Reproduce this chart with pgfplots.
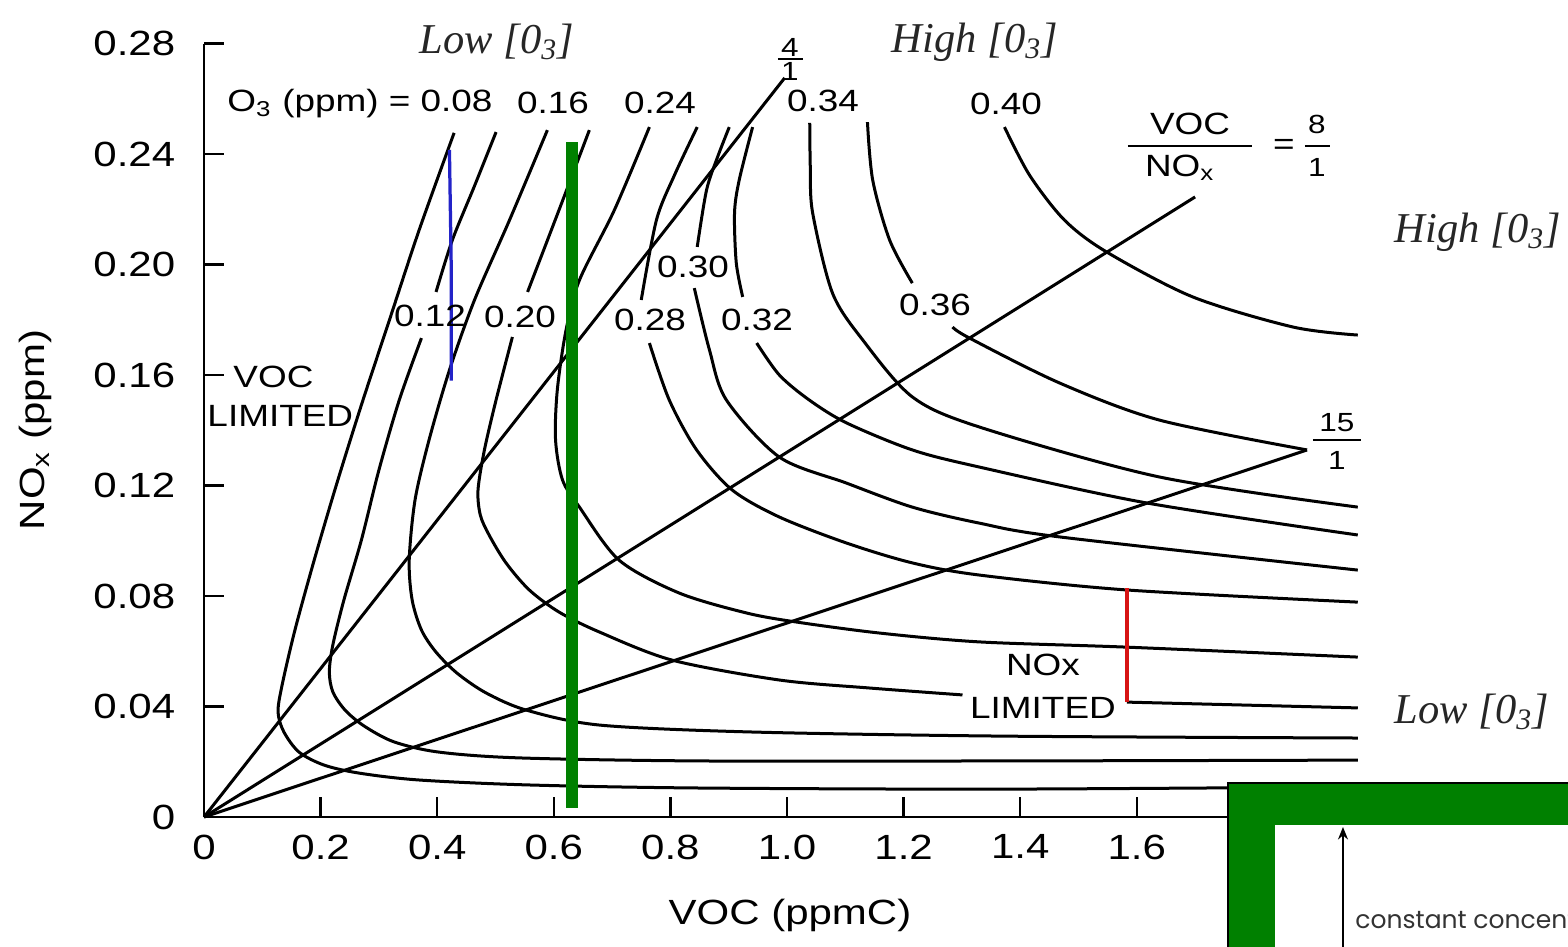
\documentclass[border=0pt]{standalone}
\usepackage{fontspec}
\setmainfont{Liberation Sans}
\newfontfamily\tnr{Liberation Serif}
\newfontfamily\gothic{Poppins}
\usepackage{graphicx}
\usepackage{pgfplots}
\pgfplotsset{compat=1.18}
\usetikzlibrary{arrows.meta}
\definecolor{gfig}{RGB}{0,128,0}
\definecolor{bfig}{RGB}{35,35,200}
\definecolor{rfig}{RGB}{215,20,20}
\newcommand\sx[1]{\scalebox{1.2}[1]{#1}}
\begin{document}
\begin{tikzpicture}
\path[use as bounding box] (0,0) rectangle (627.2pt,-378.4pt);
\fill[white] (0,0) rectangle (627.2pt,-378.4pt);
\clip (0,0) rectangle (627.2pt,-378.4pt);
\begin{axis}[
  at={(81.6pt,-326.8pt)}, anchor=south west,
  x=233.2pt, y=1104.8pt,
  xmin=0, xmax=1.98, ymin=0, ymax=0.28,
  enlargelimits=false,
  axis x line=bottom, axis y line=left,
  axis line style={-, line width=1.1pt},
  xtick={0,0.2,0.4,0.6,0.8,1.0,1.2,1.4,1.6,1.8},
  xticklabels={\sx{0},\sx{0.2},\sx{0.4},\sx{0.6},\sx{0.8},\sx{1.0},\sx{1.2},\sx{1.4},\sx{1.6},\sx{1.8}},
  ytick={0,0.04,0.08,0.12,0.16,0.20,0.24,0.28},
  yticklabels={\sx{0},\sx{0.04},\sx{0.08},\sx{0.12},\sx{0.16},\sx{0.20},\sx{0.24},\sx{0.28}},
  tick align=inside, major tick length=8pt,
  tick style={line width=1pt, black},
  xticklabel style={font=\fontsize{14}{14}\selectfont, yshift=-3.6pt},
  yticklabel style={font=\fontsize{14}{14}\selectfont, xshift=-8pt},
  clip=false,
  iso/.style={black, line width=1.2pt, smooth},
  rat/.style={black, line width=1.2pt},
]
% ratio lines VOC/NOx = 4/1, 8/1, 15/1
\addplot[rat] coordinates {(0,0) (0.996,0.2676)};
\addplot[rat] coordinates {(0,0) (1.700,0.2245)};
\addplot[rat] coordinates {(0,0) (1.892,0.1329)};
% O3 = 0.08
\addplot[iso] coordinates {(0.429,0.2477) (0.369,0.2125) (0.318,0.1799) (0.270,0.1492) (0.227,0.1202) (0.189,0.0930) (0.156,0.0677) (0.134,0.0478) (0.127,0.0380) (0.137,0.0308) (0.163,0.0235) (0.206,0.0188) (0.266,0.0159) (0.369,0.0134) (0.558,0.0116) (0.850,0.0105) (1.365,0.0101) (1.979,0.0109)};
% 0.12
\addplot[iso] coordinates {(0.501,0.2480) (0.464,0.2285) (0.426,0.2089) (0.398,0.1901)};
\addplot[iso] coordinates {(0.373,0.1734) (0.335,0.1510) (0.300,0.1256) (0.270,0.1003) (0.240,0.0786) (0.221,0.0623) (0.215,0.0525) (0.221,0.0453) (0.242,0.0387) (0.275,0.0329) (0.326,0.0272) (0.403,0.0235) (0.541,0.0214) (0.850,0.0203) (1.365,0.0203) (1.979,0.0206)};
% 0.16
\addplot[iso] coordinates {(0.589,0.2487) (0.524,0.2161) (0.464,0.1872) (0.421,0.1618) (0.386,0.1365) (0.362,0.1148) (0.352,0.0930) (0.357,0.0786) (0.373,0.0677) (0.398,0.0597) (0.434,0.0521) (0.484,0.0449) (0.553,0.0387) (0.678,0.0333) (0.936,0.0308) (1.365,0.0293) (1.979,0.0286)};
% 0.20
\addplot[iso] coordinates {(0.661,0.2487) (0.609,0.2198) (0.555,0.1901)};
\addplot[iso] coordinates {(0.529,0.1738) (0.501,0.1510) (0.481,0.1329) (0.470,0.1184) (0.474,0.1093) (0.489,0.1021) (0.518,0.0920) (0.558,0.0822) (0.609,0.0742) (0.678,0.0670) (0.803,0.0568) (0.987,0.0496) (1.142,0.0467) (1.301,0.0442)};
\addplot[iso] coordinates {(1.583,0.0416) (1.979,0.0395)};
% 0.24
\addplot[iso] coordinates {(0.764,0.2498) (0.704,0.2198) (0.644,0.1944) (0.621,0.1763) (0.606,0.1546) (0.603,0.1365) (0.615,0.1220) (0.644,0.1122) (0.712,0.0930) (0.815,0.0811) (0.930,0.0739) (1.016,0.0706) (1.159,0.0666) (1.330,0.0634) (1.583,0.0615) (1.979,0.0579)};
% 0.28
\addplot[iso] coordinates {(0.846,0.2498) (0.807,0.2324) (0.776,0.2161) (0.750,0.1872)};
\addplot[iso] coordinates {(0.764,0.1716) (0.798,0.1510) (0.845,0.1329) (0.906,0.1184) (0.987,0.1086) (1.102,0.0992) (1.215,0.0920) (1.330,0.0876) (1.583,0.0822) (1.979,0.0778)};
% 0.30
\addplot[iso] coordinates {(0.901,0.2498) (0.881,0.2390) (0.862,0.2270) (0.846,0.2064)};
\addplot[iso] coordinates {(0.841,0.1915) (0.867,0.1691) (0.896,0.1510) (0.987,0.1303) (1.102,0.1209) (1.215,0.1122) (1.330,0.1064) (1.468,0.1014) (1.979,0.0894)};
% 0.32
\addplot[iso] coordinates {(0.941,0.2498) (0.918,0.2306) (0.910,0.2187) (0.913,0.2006) (0.924,0.1883)};
\addplot[iso] coordinates {(0.948,0.1716) (0.987,0.1600) (1.038,0.1510) (1.102,0.1427) (1.215,0.1329) (1.330,0.1267) (1.617,0.1137) (1.979,0.1021)};
% 0.34
\addplot[iso] coordinates {(1.039,0.2513) (1.040,0.2350) (1.044,0.2187) (1.078,0.1897) (1.130,0.1727) (1.215,0.1521) (1.330,0.1412) (1.639,0.1231) (1.979,0.1122)};
% 0.36
\addplot[iso] coordinates {(1.138,0.2516) (1.147,0.2306) (1.176,0.2089) (1.215,0.1933)};
\addplot[iso] coordinates {(1.284,0.1774) (1.313,0.1734) (1.468,0.1571) (1.639,0.1437) (1.892,0.1329)};
% 0.40
\addplot[iso] coordinates {(1.373,0.2498) (1.416,0.2324) (1.476,0.2161) (1.548,0.2046) (1.696,0.1883) (1.868,0.1774) (1.979,0.1745)};
% overlays
\addplot[bfig, line width=1.3pt] coordinates {(0.421,0.2415) (0.424,0.2000) (0.424,0.1580)};
\addplot[rfig, line width=1.3pt] coordinates {(1.583,0.0416) (1.583,0.0829)};
\addplot[gfig, line width=4.8pt] coordinates {(0.632,0.0033) (0.632,0.2444)};
\end{axis}
\begin{scope}[x=0.4pt,y=-0.4pt,
  lab/.style={font=\fontsize{12.3}{12.3}\selectfont, inner sep=0pt},
  sml/.style={font=\fontsize{10.5}{10.5}\selectfont, inner sep=0pt},
  big/.style={font=\fontsize{14}{14}\selectfont, inner sep=0pt},
  ita/.style={font=\tnr\itshape\fontsize{17}{17}\selectfont, inner sep=0pt, text=black!85}]
\node[lab] at (360,104) {\sx{O\textsubscript{3} (ppm) = 0.08}};
\node[lab] at (553,103) {\sx{0.16}};
\node[lab] at (660,103) {\sx{0.24}};
\node[lab] at (823,101) {\sx{0.34}};
\node[lab] at (1006,104) {\sx{0.40}};
\node[lab] at (430,316) {\sx{0.12}};
\node[lab] at (520,317) {\sx{0.20}};
\node[lab] at (693,267) {\sx{0.30}};
\node[lab] at (650,320) {\sx{0.28}};
\node[lab] at (757,320) {\sx{0.32}};
\node[lab] at (935,305) {\sx{0.36}};
\node[lab, anchor=west] at (233,377) {\sx{VOC}};
\node[lab, anchor=west] at (207,416) {\sx{LIMITED}};
\node[lab] at (1043,665) {\sx{NOx}};
\node[lab] at (1043,708) {\sx{LIMITED}};
% fractions
\node[sml] at (790,47) {\sx{4}};
\draw[line width=0.9pt] (778,59) -- (803,59);
\node[sml] at (790,71) {\sx{1}};
\node[lab] at (1190,124) {\sx{VOC}};
\draw[line width=0.9pt] (1128,146) -- (1252,146);
\node[lab] at (1180,168) {\sx{NO\textsubscript{x}}};
\node[lab] at (1284,147) {\sx{=}};
\node[sml] at (1317,124) {\sx{8}};
\draw[line width=0.9pt] (1305,146) -- (1330,146);
\node[sml] at (1317,167) {\sx{1}};
\node[sml] at (1337,423) {\sx{15}};
\draw[line width=0.9pt] (1313,440) -- (1361,440);
\node[sml] at (1337,460) {\sx{1}};
% italic annotations
\node[ita] at (497,42) {Low [0\textsubscript{3}]};
\node[ita] at (975,42) {High [0\textsubscript{3}]};
\node[ita] at (1478,232) {High [0\textsubscript{3}]};
\node[ita] at (1472,712) {Low [0\textsubscript{3}]};
% axis labels
\node[big] at (790,915) {\sx{VOC (ppmC)}};
\node[big, rotate=90] at (35,430) {\sx{NO\textsubscript{x} (ppm)}};
% green box overlay
\fill[gfig, draw=black, line width=0.8pt] (1228,783) rectangle (1600,990);
\fill[white] (1275,825) rectangle (1600,990);
\draw[line width=0.6pt, -{Stealth[length=5pt, width=4pt]}] (1343,960) -- (1343,827);
\node[anchor=base west, inner sep=0pt, font=\gothic\fontsize{10}{10}\selectfont, text=black!80] at (1355,928) {constant concentration};
\end{scope}
\end{tikzpicture}
\end{document}
